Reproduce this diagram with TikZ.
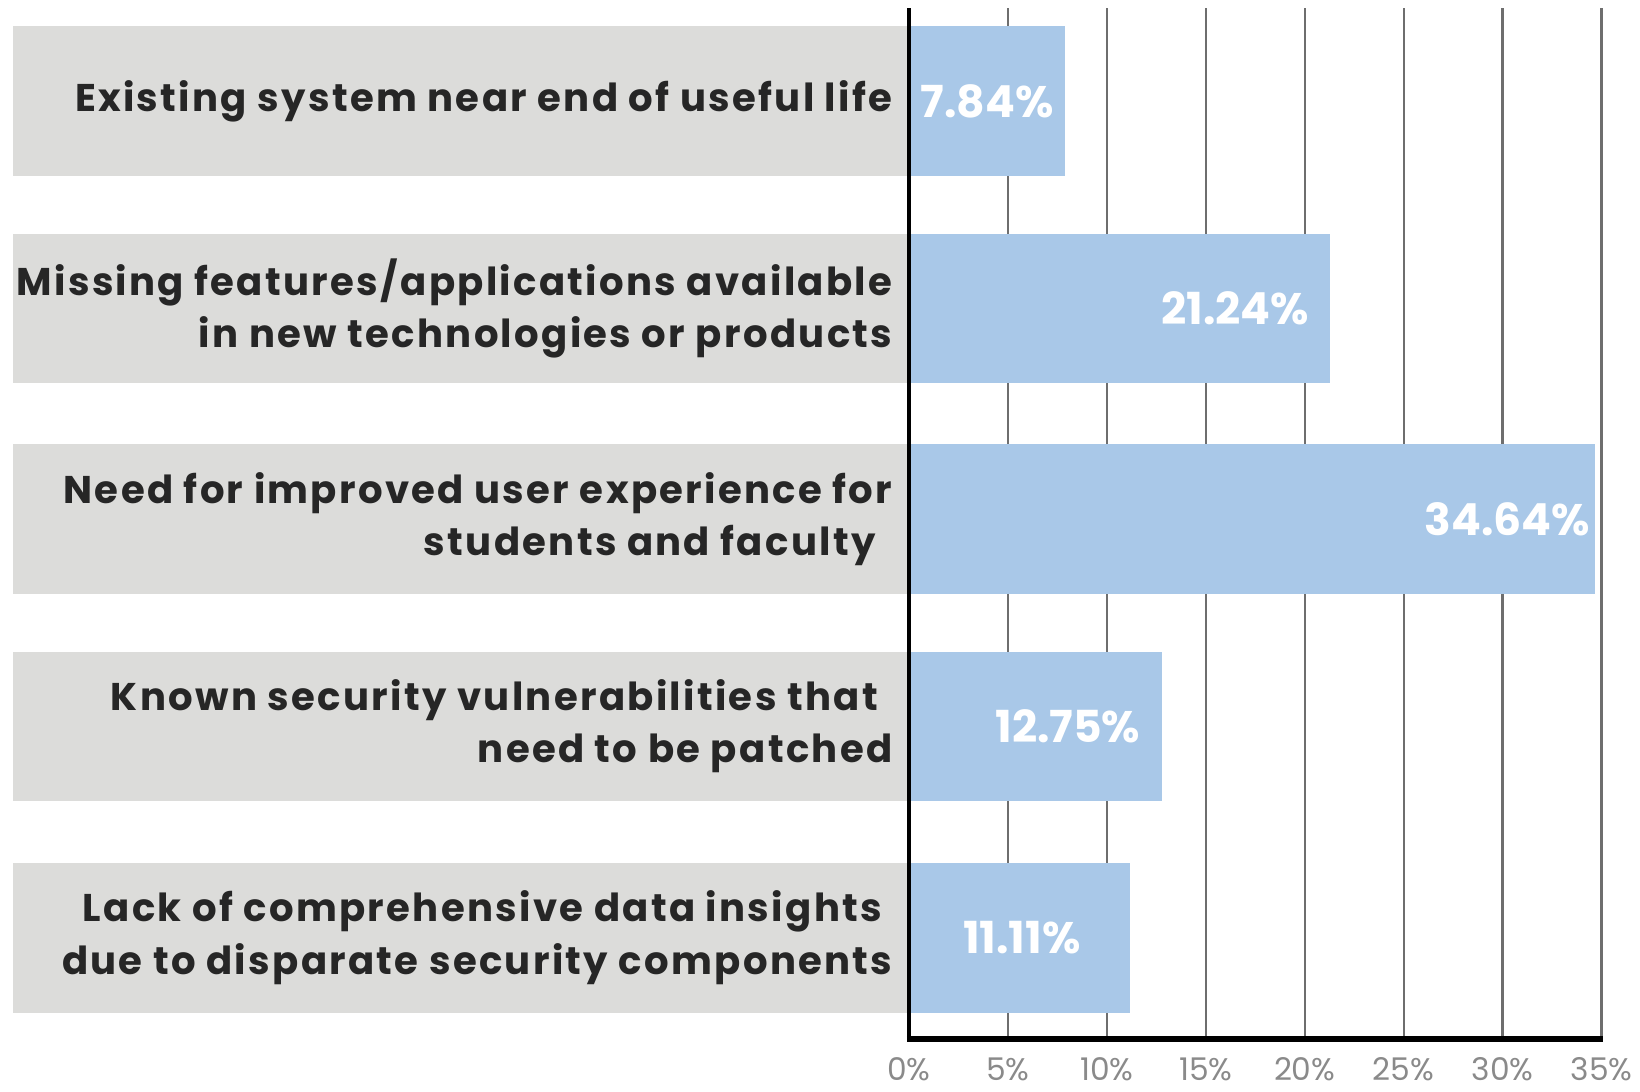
\documentclass[tikz,border=0pt]{standalone}
\usepackage{fontspec}
\setmainfont{Poppins}
\usetikzlibrary{positioning}
\definecolor{barblue}{HTML}{A9C8E8}
\definecolor{bargray}{HTML}{DCDCDA}
\definecolor{gridgray}{HTML}{6E6E6E}
\definecolor{labeltext}{HTML}{262626}
\definecolor{ticktext}{HTML}{8A8A8A}

\begin{document}
\begin{tikzpicture}[x=0.01cm, y=-0.01cm,
graybar/.style={fill=bargray, minimum width=8.57cm, minimum height=1.43cm, inner sep=0pt, anchor=west},
bluebar/.style={fill=barblue, minimum height=1.43cm, inner sep=0pt, anchor=west},
reason/.style={align=right, text=labeltext, inner sep=0pt, font=\bfseries\fontsize{10.5}{14.2}\selectfont\addfontfeature{LetterSpace=6}},
value/.style={text=white, inner sep=0pt, font=\bfseries\fontsize{12}{14}\selectfont},
tick/.style={text=ticktext, inner sep=0pt, font=\fontsize{8.5}{10}\selectfont}]
\useasboundingbox (0,0) rectangle (1568,1044);
% grid
\foreach \p in {1,...,7}
  \draw[gridgray, line width=0.6pt] (869+94.6*\p,8) -- (869+94.6*\p,993);
% bars
\foreach \n/\yc/\v/\lx in {exist/96.5/7.84/944, missing/295/21.24/1181, user/496.5/34.64/1441,
  known/694.5/12.75/1021, lack/896.5/11.11/977}{
  \node[graybar] (gray-\n) at (12,\yc) {};
  \node[bluebar, minimum width=\v*0.1891cm] (bar-\n) at (869,\yc) {};
  \node[value] (val-\n) at (\lx,\yc) {\v\%};
}
% reasons
\node[reason, left=0.17cm of gray-exist.east] (reason-exist) {Existing system near end of useful life};
\node[reason, left=0.17cm of gray-missing.east] (reason-missing) {Missing features/applications available\\in new technologies or products};
\node[reason, left=0.17cm of gray-user.east] (reason-user) {Need for improved user experience for\\students and faculty\hspace*{0.16cm}};
\node[reason, left=0.17cm of gray-known.east] (reason-known) {Known security vulnerabilities that\hspace*{0.14cm}\\need to be patched};
\node[reason, left=0.17cm of gray-lack.east] (reason-lack) {Lack of comprehensive data insights\hspace*{0.1cm}\\due to disparate security components};
% axes
\draw[line width=1.1pt] (869,8) -- (869,993);
\draw[line width=1.6pt] (867,993) -- (1533,993);
\foreach \p [evaluate=\p as \pc using int(5*\p)] in {0,...,7}
  \node[tick] (tick-\p) at (869+94.6*\p,1022) {\pc\%};
\end{tikzpicture}
\end{document}
